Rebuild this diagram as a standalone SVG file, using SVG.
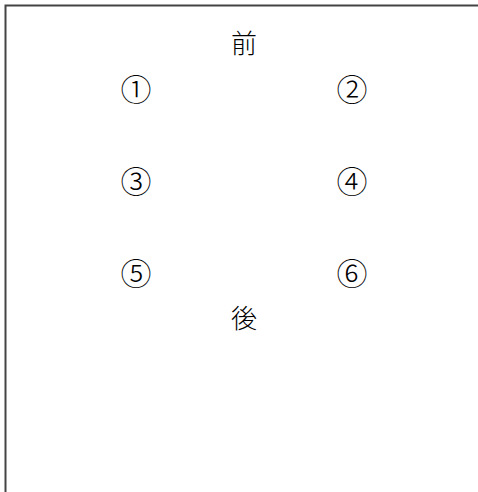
<svg xmlns="http://www.w3.org/2000/svg" width="478" height="492" viewBox="0 0 478 492">
<style>
.t{font-family:"Noto Sans CJK JP","Noto Sans CJK SC",sans-serif;font-size:26px;font-weight:300;fill:#000;text-anchor:middle;dominant-baseline:central}
.d{font-size:31px}
</style>
<rect width="478" height="492" fill="#fff"/>
<path d="M5.5 492 V5.5 H478" fill="none" stroke="#444" stroke-width="2"/>
<g id="front"><text class="t" x="244" y="41">前</text></g>
<g id="n1"><text class="t d" x="136" y="87">①</text></g>
<g id="n2"><text class="t d" x="352" y="87">②</text></g>
<g id="n3"><text class="t d" x="136" y="179">③</text></g>
<g id="n4"><text class="t d" x="352" y="179">④</text></g>
<g id="n5"><text class="t d" x="136" y="271">⑤</text></g>
<g id="n6"><text class="t d" x="352" y="271">⑥</text></g>
<g id="back"><text class="t" x="244" y="316">後</text></g>
<g id="connectors"/>
</svg>
